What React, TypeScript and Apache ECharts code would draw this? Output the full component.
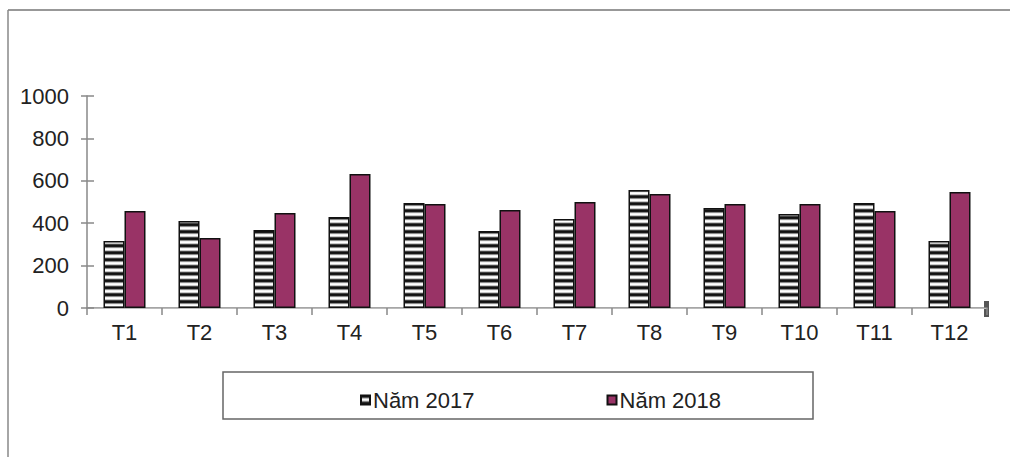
import React, { useEffect, useRef } from "react";
import * as echarts from "echarts";

const categories = ["T1", "T2", "T3", "T4", "T5", "T6", "T7", "T8", "T9", "T10", "T11", "T12"];
const series2017 = [316, 410, 368, 429, 495, 363, 420, 557, 472, 443, 495, 316];
const series2018 = [458, 330, 448, 632, 490, 462, 500, 538, 490, 490, 458, 547];
const seriesNames = ["Năm 2017", "Năm 2018"];
const yTicks = { min: 0, max: 1000, interval: 200 };

function makeStripe(): HTMLCanvasElement {
  const c = document.createElement("canvas");
  c.width = 4;
  c.height = 7;
  const ctx = c.getContext("2d")!;
  const rows = ["#111111", "#1a1a1a", "#8a8a8a", "#f0f0f0", "#ffffff", "#c8c8c8", "#444444"];
  rows.forEach((col, i) => {
    ctx.fillStyle = col;
    ctx.fillRect(0, i, 4, 1);
  });
  return c;
}

export default function App() {
  const ref = useRef<HTMLDivElement>(null);
  useEffect(() => {
    if (!ref.current) return;
    const chart = echarts.init(ref.current, null, { renderer: "svg" });
    const stripe = makeStripe();
    const font = "Arial, 'Liberation Sans', sans-serif";
    chart.setOption({
      animation: false,
      backgroundColor: "#ffffff",
      textStyle: { fontFamily: font },
      grid: { left: 87, top: 96, width: 900, height: 212, containLabel: false },
      graphic: [
        { type: "line", shape: { x1: 8, y1: 10, x2: 1010, y2: 10 }, style: { stroke: "#333", lineWidth: 1.2 } },
        { type: "line", shape: { x1: 8, y1: 10, x2: 8, y2: 457 }, style: { stroke: "#888", lineWidth: 1.5 } },
        { type: "rect", shape: { x: 223, y: 372, width: 590, height: 47 }, style: { fill: "none", stroke: "#666", lineWidth: 1.5 }, z: 0 },
        { type: "rect", shape: { x: 984, y: 301, width: 5, height: 16 }, style: { fill: "#555" } },
      ],
      legend: {
        data: seriesNames,
        left: 355,
        top: 384,
        itemWidth: 9,
        itemHeight: 9,
        itemGap: 132,
        icon: "rect",
        textStyle: { fontSize: 22, color: "#222", fontFamily: font, padding: [0, 0, 0, -2] },
      },
      xAxis: [
        {
          type: "category",
          data: categories,
          axisLine: { lineStyle: { color: "#888", width: 1.5 } },
          axisTick: { show: true, length: 7, lineStyle: { color: "#888", width: 1.5 } },
          axisLabel: { fontSize: 22, color: "#222", margin: 13, fontFamily: font },
        },
        {
          type: "category",
          position: "top",
          data: categories,
          axisLine: { show: true, lineStyle: { color: "#bbb", width: 1 } },
          axisTick: { show: false },
          axisLabel: { show: false },
        },
      ],
      yAxis: [
        {
          type: "value",
          min: yTicks.min,
          max: yTicks.max,
          interval: yTicks.interval,
          axisLine: { show: true, lineStyle: { color: "#888", width: 1.5 } },
          axisTick: { show: true, length: 6, lineStyle: { color: "#888", width: 1.5 } },
          axisLabel: { fontSize: 22, color: "#222", margin: 18, fontFamily: font, formatter: (v: number) => String(v) },
          splitLine: { show: false },
        },
        {
          type: "value",
          position: "left",
          min: yTicks.min,
          max: yTicks.max,
          interval: yTicks.interval,
          axisLine: { show: false },
          axisTick: { show: true, inside: true, length: 7, lineStyle: { color: "#888", width: 1.5 } },
          axisLabel: { show: false },
          splitLine: { show: false },
        },
      ],
      series: [
        {
          name: seriesNames[0],
          type: "bar",
          data: series2017,
          barWidth: 21,
          barGap: "0%",
          itemStyle: {
            color: { image: stripe, repeat: "repeat" } as any,
            borderColor: "#111",
            borderWidth: 1.5,
          },
        },
        {
          name: seriesNames[1],
          type: "bar",
          data: series2018,
          barWidth: 21,
          barGap: "0%",
          itemStyle: { color: "#993366", borderColor: "#111", borderWidth: 1.5 },
        },
      ],
    });
    return () => chart.dispose();
  }, []);
  return <div ref={ref} style={{ position: "absolute", left: 0, top: 0, width: 1010, height: 457 }} />;
}
